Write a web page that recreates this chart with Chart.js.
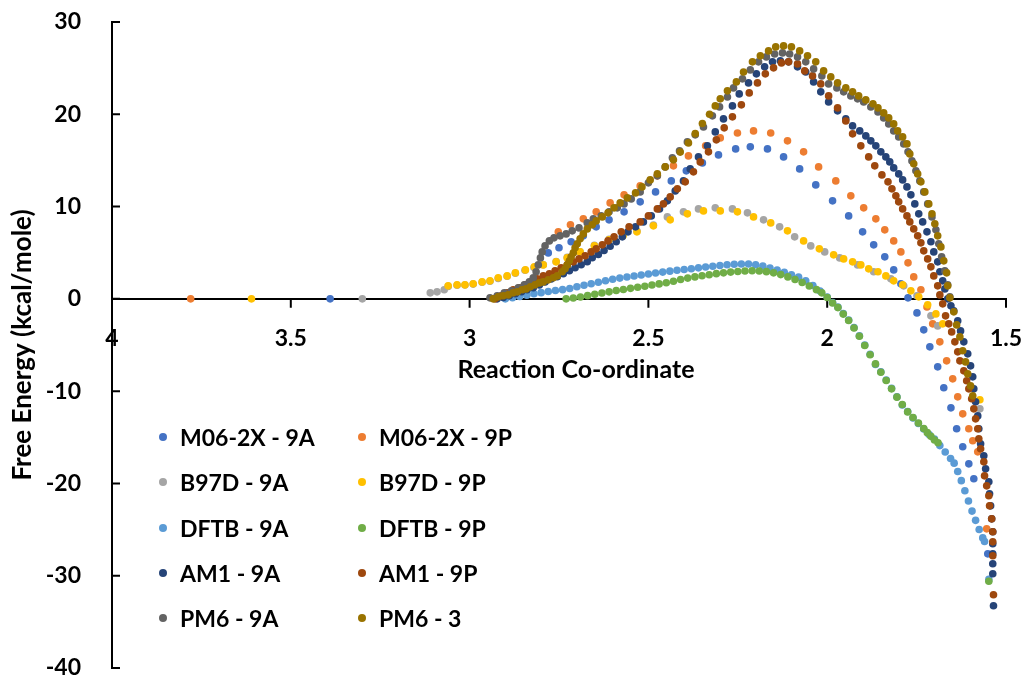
<!DOCTYPE html>
<html>
<head>
<meta charset="utf-8">
<script src="https://cdn.jsdelivr.net/npm/chart.js@4.4.1/dist/chart.umd.min.js"></script>
<style>
  html, body { margin: 0; padding: 0; background: #fff; }
  #wrap { position: relative; width: 1025px; height: 677px; }
  #legend { position: absolute; left: 0; top: 0; font: bold 23px Lato, sans-serif; color: #000; }
  .item { position: absolute; display: flex; align-items: center; height: 28px; white-space: nowrap; }
  .dot { width: 8px; height: 8px; border-radius: 50%; margin-right: 13px; }
</style>
</head>
<body>
<div id="wrap">
  <canvas id="energyChart" width="1025" height="677"></canvas>
  <div id="legend"></div>
</div>
<script>
const xTicks = [4, 3.5, 3, 2.5, 2, 1.5];
const yTicks = [-40, -30, -20, -10, 0, 10, 20, 30];

const seriesNames = ['M06-2X - 9A', 'M06-2X - 9P', 'B97D - 9A', 'B97D - 9P', 'DFTB - 9A',
  'DFTB - 9P', 'AM1 - 9A', 'AM1 - 9P', 'PM6 - 9A', 'PM6 - 3'];
const seriesColors = ['#4472C4', '#ED7D31', '#A5A5A5', '#FFC000', '#5B9BD5',
  '#70AD47', '#264478', '#9E480E', '#636363', '#997300'];

// [reaction co-ordinate, free energy in kcal/mole]
const m062x9A = [[3.39,0],[2.78,4.98],[2.75,5.53],[2.716,6.18],[2.682,6.83],[2.646,7.80],[2.61,8.56],
  [2.568,9.43],[2.523,10.51],[2.48,11.59],[2.436,12.78],[2.394,13.87],[2.349,14.73],[2.304,15.60],
  [2.256,16.25],[2.215,16.47],[2.167,16.25],[2.122,15.38],[2.077,14.08],[2.032,12.35],[1.985,10.62],
  [1.94,8.99],[1.901,7.26],[1.87,5.85],[1.839,4.55],[1.814,3.14],[1.794,1.63],[1.774,0.11],
  [1.749,-1.52],[1.73,-3.36],[1.713,-5.20],[1.691,-7.37],[1.674,-9.64],[1.654,-11.81],[1.638,-14.08],
  [1.621,-16.03],[1.604,-17.88],[1.59,-19.50],[1.551,-27.63]];

const m062x9P = [[3.78,0],[2.752,7.26],[2.718,8.02],[2.682,8.67],[2.646,9.43],[2.607,10.40],[2.568,11.27],
  [2.523,12.24],[2.475,13.33],[2.43,14.41],[2.388,15.49],[2.34,16.58],[2.299,17.44],[2.251,17.98],
  [2.206,18.20],[2.158,17.98],[2.111,17.12],[2.066,15.93],[2.024,14.30],[1.976,12.78],[1.934,11.16],
  [1.898,9.86],[1.864,8.67],[1.839,7.48],[1.814,6.28],[1.794,5.09],[1.774,3.90],[1.758,2.38],
  [1.738,0.98],[1.721,-0.87],[1.705,-2.71],[1.685,-4.66],[1.666,-6.72],[1.649,-8.67],[1.635,-10.62],
  [1.621,-12.46],[1.604,-14.08],[1.593,-15.38],[1.579,-16.58],[1.554,-24.92]];

const b97d9A = [[3.30,0],[3.11,0.65],[3.091,0.76],[3.071,0.98],[3.06,1.35],[3.035,1.48],[3.013,1.50],
  [2.99,1.60],[2.965,1.80],[2.943,1.90],[2.92,2.20],[2.895,2.45],[2.872,2.78],[2.845,3.10],[2.82,3.40],
  [2.794,3.70],[2.758,4.05],[2.727,4.50],[2.691,5.10],[2.651,5.80],[2.61,6.45],[2.571,6.90],[2.532,7.35],
  [2.486,8.00],[2.447,8.88],[2.402,9.43],[2.36,9.75],[2.313,9.86],[2.265,9.75],[2.223,9.32],[2.178,8.56],
  [2.133,7.80],[2.091,6.72],[2.046,5.74],[2.007,5.09],[1.965,4.44],[1.915,3.68],[1.87,2.93],[1.822,2.17],
  [1.786,1.41],[1.749,0.33],[1.71,-1.84],[1.691,-2.93],[1.573,-11.92]];

const b97d9P = [[3.61,0],[3.06,1.41],[3.035,1.52],[3.013,1.52],[2.99,1.63],[2.965,1.84],[2.943,1.95],
  [2.92,2.28],[2.895,2.49],[2.872,2.82],[2.844,3.14],[2.819,3.47],[2.794,3.68],[2.758,4.01],[2.727,4.44],
  [2.691,5.09],[2.651,5.74],[2.61,6.39],[2.571,6.83],[2.532,7.26],[2.486,7.91],[2.439,8.56],[2.391,9.21],
  [2.346,9.53],[2.299,9.53],[2.251,9.43],[2.206,8.88],[2.158,8.23],[2.111,7.37],[2.066,6.28],[2.022,5.42],
  [1.982,4.77],[1.954,4.33],[1.929,4.01],[1.906,3.68],[1.884,3.25],[1.858,2.93],[1.836,2.49],[1.814,1.95],
  [1.789,1.52],[1.766,0.87],[1.744,0.22],[1.719,-0.65],[1.696,-1.63],[1.677,-2.71],[1.573,-10.94]];

const dftb9A = [[2.90,0.00],[2.88,0.12],[2.86,0.25],[2.84,0.40],[2.82,0.55],[2.80,0.67],[2.78,0.79],
  [2.76,0.90],[2.74,1.00],[2.72,1.12],[2.70,1.32],[2.68,1.48],[2.66,1.64],[2.64,1.80],[2.62,1.97],
  [2.60,2.12],[2.58,2.25],[2.56,2.37],[2.54,2.48],[2.52,2.59],[2.50,2.70],[2.48,2.80],[2.46,2.90],
  [2.44,3.00],[2.42,3.10],[2.40,3.18],[2.38,3.27],[2.36,3.36],[2.34,3.45],[2.32,3.54],[2.30,3.62],
  [2.28,3.69],[2.26,3.75],[2.24,3.78],[2.22,3.77],[2.20,3.70],[2.18,3.55],[2.16,3.35],[2.14,3.12],
  [2.12,2.88],[2.10,2.62],[2.08,2.35],[2.06,1.95],[2.04,1.45],[2.02,0.85],[2.00,0.20],[1.985,-0.40],
  [1.97,-0.90],[1.955,-1.60],[1.94,-2.30],[1.925,-3.10],[1.91,-4.00],[1.895,-5.00],[1.88,-6.00],
  [1.865,-7.10],[1.85,-7.90],[1.835,-8.80],[1.82,-9.70],[1.805,-10.60],[1.79,-11.50],[1.775,-12.20],
  [1.76,-12.90],[1.745,-13.50],[1.73,-14.10],[1.715,-14.70],[1.70,-15.20],[1.685,-15.90],[1.67,-16.60],
  [1.655,-17.30],[1.645,-17.80],[1.635,-18.70],[1.625,-19.70],[1.615,-20.80],[1.605,-21.90],[1.595,-23.00],
  [1.585,-24.00],[1.575,-25.00],[1.565,-25.90],[1.56,-26.30],[1.548,-30.40]];

const dftb9P = [[2.73,0.00],[2.71,0.10],[2.69,0.20],[2.67,0.35],[2.65,0.50],[2.63,0.63],[2.61,0.76],
  [2.59,0.90],[2.57,1.02],[2.55,1.14],[2.53,1.26],[2.51,1.37],[2.49,1.50],[2.47,1.62],[2.45,1.75],
  [2.43,1.90],[2.41,2.10],[2.39,2.25],[2.37,2.38],[2.35,2.50],[2.33,2.62],[2.31,2.73],[2.29,2.82],
  [2.27,2.90],[2.25,2.97],[2.23,3.02],[2.21,3.04],[2.19,3.02],[2.17,2.95],[2.15,2.82],[2.13,2.63],
  [2.11,2.38],[2.09,2.10],[2.07,1.78],[2.05,1.40],[2.03,1.00],[2.015,0.65],[2.00,0.15],[1.985,-0.45],
  [1.97,-0.95],[1.955,-1.65],[1.94,-2.35],[1.925,-3.15],[1.91,-4.05],[1.895,-5.05],[1.88,-6.05],
  [1.865,-7.05],[1.85,-7.95],[1.835,-8.85],[1.82,-9.75],[1.805,-10.65],[1.79,-11.45],[1.775,-12.25],
  [1.76,-12.85],[1.745,-13.45],[1.73,-14.05],[1.72,-14.50],[1.71,-14.90],[1.70,-15.30],[1.69,-15.60],
  [1.548,-30.60]];

const am19A = [[2.923,0],[2.906,0.15],[2.889,0.35],[2.872,0.55],[2.855,0.77],[2.839,0.98],[2.822,1.20],
  [2.805,1.50],[2.789,1.82],[2.772,2.15],[2.755,2.40],[2.738,2.72],[2.721,3.04],[2.705,3.37],[2.688,3.70],
  [2.671,4.02],[2.657,4.45],[2.64,4.80],[2.624,5.25],[2.607,5.70],[2.59,6.18],[2.573,6.72],[2.557,7.26],
  [2.536,7.80],[2.514,8.34],[2.492,8.99],[2.469,9.75],[2.447,10.62],[2.425,11.70],[2.402,12.78],
  [2.383,14.08],[2.36,15.38],[2.335,16.58],[2.313,18.09],[2.29,19.50],[2.265,20.91],[2.246,22.21],
  [2.22,23.40],[2.198,24.38],[2.175,25.14],[2.153,25.68],[2.131,25.79],[2.108,25.68],[2.083,25.14],
  [2.06,24.59],[2.038,23.51],[2.018,22.43],[1.996,21.34],[1.971,20.37],[1.948,19.50],[1.929,18.74],
  [1.909,18.20],[1.892,17.66],[1.878,17.12],[1.864,16.58],[1.85,15.93],[1.836,15.38],[1.825,14.84],
  [1.814,14.19],[1.80,13.54],[1.789,12.89],[1.777,12.13],[1.766,11.27],[1.755,10.29],[1.744,9.21],
  [1.733,8.34],[1.721,7.26],[1.71,6.18],[1.702,5.09],[1.691,4.01],[1.685,2.93],[1.677,1.95],[1.671,1.08],
  [1.663,0],[1.654,-0.76],[1.646,-1.30],[1.635,-2.38],[1.627,-3.47],[1.618,-4.66],[1.607,-5.96],
  [1.599,-7.26],[1.593,-8.45],[1.59,-9.75],[1.585,-11.16],[1.579,-12.68],[1.576,-14.08],[1.571,-15.71],
  [1.562,-17.01],[1.557,-18.42],[1.548,-19.83],[1.546,-21.13],[1.543,-22.43],[1.54,-23.84],[1.537,-25.24],
  [1.537,-26.54],[1.537,-27.63],[1.537,-28.71],[1.537,-29.79],[1.535,-33.26]];

const am19P = [[2.929,0],[2.912,0.33],[2.895,0.65],[2.878,0.98],[2.861,1.19],[2.844,1.52],[2.828,1.84],
  [2.811,2.17],[2.794,2.49],[2.777,2.71],[2.761,3.03],[2.744,3.36],[2.727,3.68],[2.71,4.01],[2.694,4.33],
  [2.677,4.66],[2.66,5.09],[2.646,5.42],[2.629,5.85],[2.613,6.28],[2.596,6.72],[2.576,7.26],[2.554,7.80],
  [2.523,8.34],[2.50,8.99],[2.475,9.75],[2.458,10.29],[2.439,11.05],[2.419,11.92],[2.397,12.68],
  [2.374,13.76],[2.355,14.84],[2.332,15.93],[2.31,17.23],[2.288,18.53],[2.265,19.72],[2.24,21.02],
  [2.218,22.32],[2.195,23.40],[2.173,24.38],[2.15,25.03],[2.128,25.57],[2.108,25.68],[2.083,25.46],
  [2.063,24.70],[2.041,24.16],[2.018,23.29],[1.996,21.99],[1.971,20.69],[1.948,19.28],[1.929,17.88],
  [1.906,16.58],[1.884,15.38],[1.867,14.41],[1.847,13.43],[1.83,12.68],[1.819,11.92],[1.808,11.16],
  [1.80,10.51],[1.789,9.75],[1.777,8.99],[1.769,8.34],[1.758,7.58],[1.747,6.83],[1.738,6.07],[1.73,5.20],
  [1.719,4.33],[1.71,3.47],[1.702,2.49],[1.691,1.41],[1.685,0.43],[1.677,-0.54],[1.669,-1.84],
  [1.66,-2.71],[1.652,-3.58],[1.643,-4.66],[1.635,-5.74],[1.629,-6.72],[1.618,-7.80],[1.61,-8.88],
  [1.604,-9.75],[1.596,-10.83],[1.59,-11.92],[1.585,-13.00],[1.579,-14.08],[1.576,-15.17],[1.571,-16.25],
  [1.562,-17.66],[1.56,-19.18],[1.554,-20.26],[1.548,-21.34],[1.546,-22.43],[1.54,-23.84],[1.537,-25.24],
  [1.537,-26.33],[1.537,-27.84],[1.535,-32.07]];

const pm69A = [[2.943,0.11],[2.923,0.33],[2.903,0.65],[2.883,0.87],[2.864,1.19],[2.847,1.52],[2.833,1.84],
  [2.822,2.28],[2.814,2.93],[2.808,3.68],[2.802,4.44],[2.797,5.09],[2.789,5.74],[2.777,6.28],[2.764,6.61],
  [2.747,6.83],[2.73,7.04],[2.713,7.37],[2.694,7.69],[2.671,8.23],[2.654,8.67],[2.632,8.99],[2.61,9.43],
  [2.587,9.86],[2.568,10.29],[2.548,10.83],[2.523,11.59],[2.50,12.57],[2.475,13.33],[2.453,14.30],
  [2.433,15.28],[2.413,16.03],[2.391,17.01],[2.369,17.77],[2.346,18.63],[2.321,19.83],[2.301,20.80],
  [2.279,21.88],[2.262,22.86],[2.237,23.84],[2.215,24.81],[2.192,25.68],[2.17,26.22],[2.147,26.54],
  [2.125,26.65],[2.105,26.54],[2.083,26.22],[2.06,25.68],[2.038,24.92],[2.015,24.16],[1.996,23.29],
  [1.973,22.86],[1.954,22.43],[1.934,21.99],[1.915,21.67],[1.898,21.34],[1.878,20.80],[1.858,20.26],
  [1.842,19.61],[1.828,18.96],[1.814,18.20],[1.80,17.55],[1.786,16.79],[1.774,15.93],[1.763,14.95],
  [1.752,13.87],[1.741,12.78],[1.73,11.59],[1.719,10.29],[1.707,8.88],[1.696,7.48],[1.688,5.96],
  [1.68,4.55],[1.671,3.03],[1.663,1.52],[1.657,0.22]];

const pm63 = [[2.934,0],[2.92,0.22],[2.906,0.33],[2.892,0.43],[2.878,0.65],[2.866,0.76],[2.853,0.98],
  [2.842,1.08],[2.83,1.30],[2.817,1.52],[2.805,1.73],[2.794,1.84],[2.78,2.06],[2.766,2.28],[2.755,2.49],
  [2.741,2.93],[2.733,3.25],[2.727,3.68],[2.721,4.12],[2.716,4.55],[2.71,4.98],[2.705,5.53],[2.699,5.96],
  [2.691,6.50],[2.682,7.04],[2.671,7.58],[2.657,8.02],[2.646,8.45],[2.629,8.88],[2.613,9.32],[2.596,9.86],
  [2.579,10.40],[2.559,10.94],[2.536,11.48],[2.518,12.13],[2.495,12.89],[2.475,13.54],[2.453,14.30],
  [2.43,15.06],[2.411,15.90],[2.388,16.90],[2.369,17.90],[2.349,19.00],[2.329,20.00],[2.313,20.91],
  [2.299,21.67],[2.279,22.54],[2.254,23.51],[2.234,24.59],[2.209,25.68],[2.187,26.33],[2.164,26.87],
  [2.144,27.30],[2.122,27.41],[2.10,27.30],[2.077,26.87],[2.055,26.33],[2.032,25.68],[2.01,24.70],
  [1.99,24.05],[1.971,23.40],[1.948,22.86],[1.929,22.43],[1.912,21.99],[1.892,21.56],[1.872,21.13],
  [1.858,20.69],[1.842,20.15],[1.828,19.61],[1.814,18.96],[1.803,18.20],[1.789,17.55],[1.777,16.79],
  [1.769,15.71],[1.758,14.63],[1.747,13.54],[1.738,12.68],[1.727,11.59],[1.716,10.29],[1.707,9.21],
  [1.699,8.13],[1.691,6.83],[1.682,5.63],[1.674,4.12],[1.666,2.82],[1.663,1.41],[1.657,0.11],
  [1.646,-1.41],[1.638,-2.82],[1.629,-4.12],[1.621,-5.63],[1.613,-6.83],[1.607,-8.13],[1.599,-9.43],
  [1.593,-10.51]];

const seriesData = [m062x9A, m062x9P, b97d9A, b97d9P, dftb9A, dftb9P, am19A, am19P, pm69A, pm63];

Chart.defaults.font.family = 'Lato, sans-serif';
Chart.defaults.color = '#000';

// inward tick marks on both axes plus the x axis title under the tick labels
const axisMarks = {
  id: 'axisMarks',
  beforeDatasetsDraw(chart) {
    const { ctx, scales: { x, y } } = chart;
    const zeroY = y.getPixelForValue(0);
    ctx.save();
    ctx.strokeStyle = '#000';
    ctx.lineWidth = 2;
    ctx.beginPath();
    yTicks.forEach(v => {
      const py = y.getPixelForValue(v);
      ctx.moveTo(x.left, py);
      ctx.lineTo(x.left + 8, py);
    });
    xTicks.forEach(v => {
      const px = x.getPixelForValue(v);
      ctx.moveTo(px, zeroY);
      ctx.lineTo(px, zeroY + 9);
    });
    ctx.stroke();
    ctx.fillStyle = '#000';
    ctx.font = 'bold 25px Lato, sans-serif';
    ctx.textAlign = 'center';
    ctx.textBaseline = 'middle';
    ctx.fillText('Reaction Co-ordinate', (x.left + x.right) / 2 + 17, zeroY + 71);
    ctx.restore();
  }
};

const datasets = seriesNames.map((name, i) => ({
  label: name,
  data: seriesData[i].map(([x, y]) => ({ x, y })),
  backgroundColor: seriesColors[i],
  borderColor: seriesColors[i],
  pointRadius: 3.8,
  pointBorderWidth: 0,
  order: seriesNames.length - i   // later runs are painted on top
}));

new Chart(document.getElementById('energyChart'), {
  type: 'scatter',
  data: { datasets },
  options: {
    responsive: false,
    animation: false,
    devicePixelRatio: 1,
    layout: { padding: { left: 0, top: 22, right: 19, bottom: 9 } },
    plugins: { legend: { display: false }, tooltip: { enabled: false } },
    scales: {
      x: {
        type: 'linear',
        reverse: true,
        min: 1.5,
        max: 4,
        position: { y: 0 },
        grid: { display: false, drawTicks: false },
        border: { display: true, color: '#000', width: 2 },
        ticks: {
          stepSize: 0.5,
          padding: 26,
          maxRotation: 0,
          font: { size: 23, weight: 'bold' },
          callback: v => String(v)
        },
        afterFit(scale) { scale.height = 0; scale.paddingLeft = 0; scale.paddingRight = 0; }
      },
      y: {
        min: -40,
        max: 30,
        grid: { display: false, drawTicks: false },
        border: { display: true, color: '#000', width: 2 },
        ticks: { stepSize: 10, padding: 31, font: { size: 23, weight: 'bold' } },
        title: {
          display: true,
          text: 'Free Energy (kcal/mole)',
          font: { size: 26, weight: 'bold' },
          padding: { top: 7, bottom: 0 }
        },
        afterFit(scale) { scale.width = 112; scale.paddingTop = 0; scale.paddingBottom = 0; }
      }
    }
  },
  plugins: [axisMarks]
});

// two-column legend in the lower left of the plot
const legendBox = document.getElementById('legend');
seriesNames.forEach((name, i) => {
  const item = document.createElement('div');
  item.className = 'item';
  item.style.left = (159 + (i % 2) * 199) + 'px';
  item.style.top = (423 + Math.floor(i / 2) * 45.3) + 'px';
  const dot = document.createElement('span');
  dot.className = 'dot';
  dot.style.background = seriesColors[i];
  item.appendChild(dot);
  item.appendChild(document.createTextNode(name));
  legendBox.appendChild(item);
});
</script>
</body>
</html>
